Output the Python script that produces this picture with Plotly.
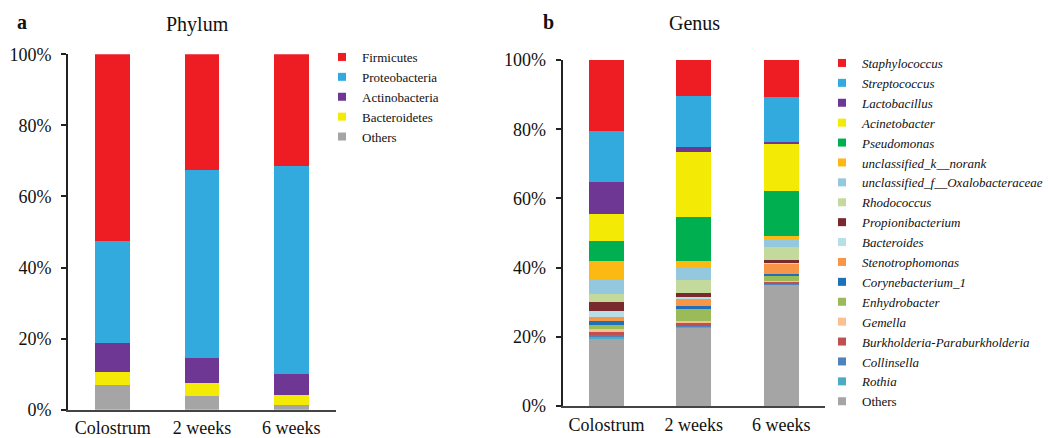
import plotly.graph_objects as go

W, H = 1048, 438

categories = ["Colostrum", "2 weeks", "6 weeks"]
y_tick_values = [0, 20, 40, 60, 80, 100]
y_tick_labels = ["0%", "20%", "40%", "60%", "80%", "100%"]

# Panel a: Phylum (percent), bottom-to-top stacking order
phylum_names = ["Others", "Bacteroidetes", "Actinobacteria", "Proteobacteria", "Firmicutes"]
phylum_values = {
    "Others":         [7.0, 3.9, 1.3],
    "Bacteroidetes":  [3.5, 3.5, 2.9],
    "Actinobacteria": [8.2, 7.2, 5.9],
    "Proteobacteria": [28.7, 52.8, 58.6],
    "Firmicutes":     [52.6, 32.6, 31.3],
}
phylum_colors = {
    "Firmicutes": "#EE1D24", "Proteobacteria": "#33AADE", "Actinobacteria": "#6E3794",
    "Bacteroidetes": "#F3EA06", "Others": "#A5A5A5",
}
phylum_legend_order = ["Firmicutes", "Proteobacteria", "Actinobacteria", "Bacteroidetes", "Others"]

# Panel b: Genus (percent), bottom-to-top stacking order
genus_names = ["Others", "Rothia", "Collinsella", "Burkholderia-Paraburkholderia", "Gemella",
               "Enhydrobacter", "Corynebacterium_1", "Stenotrophomonas", "Bacteroides",
               "Propionibacterium", "Rhodococcus", "unclassified_f__Oxalobacteraceae",
               "unclassified_k__norank", "Pseudomonas", "Acinetobacter", "Lactobacillus",
               "Streptococcus", "Staphylococcus"]
genus_values = {
    "Others":                           [19.5, 22.6, 35.1],
    "Rothia":                           [0.4, 0.3, 0.0],
    "Collinsella":                      [0.6, 0.2, 0.1],
    "Burkholderia-Paraburkholderia":    [0.9, 1.0, 0.8],
    "Gemella":                          [0.9, 0.5, 0.1],
    "Enhydrobacter":                    [1.1, 3.5, 1.5],
    "Corynebacterium_1":                [1.3, 0.9, 0.6],
    "Stenotrophomonas":                 [1.1, 1.9, 2.9],
    "Bacteroides":                      [1.7, 0.7, 0.2],
    "Propionibacterium":                [2.6, 1.1, 1.0],
    "Rhodococcus":                      [2.4, 3.7, 3.6],
    "unclassified_f__Oxalobacteraceae": [4.0, 3.6, 2.4],
    "unclassified_k__norank":           [5.5, 2.0, 0.7],
    "Pseudomonas":                      [5.6, 12.6, 13.2],
    "Acinetobacter":                    [7.8, 18.7, 13.4],
    "Lactobacillus":                    [9.4, 1.6, 0.8],
    "Streptococcus":                    [14.8, 14.8, 12.8],
    "Staphylococcus":                   [20.4, 10.3, 10.8],
}
genus_colors = {
    "Staphylococcus": "#EE1D24", "Streptococcus": "#33AADE", "Lactobacillus": "#6E3794",
    "Acinetobacter": "#F3EA06", "Pseudomonas": "#00AF4F", "unclassified_k__norank": "#FDB913",
    "unclassified_f__Oxalobacteraceae": "#93C8DF", "Rhodococcus": "#C4D99C",
    "Propionibacterium": "#7A2A2C", "Bacteroides": "#B6DFE8", "Stenotrophomonas": "#F79646",
    "Corynebacterium_1": "#1F70B9", "Enhydrobacter": "#9BBB59", "Gemella": "#FAC090",
    "Burkholderia-Paraburkholderia": "#C0504D", "Collinsella": "#4F81BD", "Rothia": "#4BACC6",
    "Others": "#A5A5A5",
}
genus_legend_order = list(reversed(genus_names))

FONT = "Liberation Serif, Times New Roman, serif"

fig = go.Figure()

# bars panel a
for name in phylum_names:
    fig.add_trace(go.Bar(
        x=categories, y=phylum_values[name], name=name,
        marker=dict(color=phylum_colors[name], line=dict(width=0)),
        width=0.39, xaxis="x", yaxis="y", showlegend=False,
    ))
# bars panel b
for name in genus_names:
    fig.add_trace(go.Bar(
        x=categories, y=genus_values[name], name=name,
        marker=dict(color=genus_colors[name], line=dict(width=0)),
        width=0.40, xaxis="x2", yaxis="y2", showlegend=False,
    ))

# legend entries (square swatches)
for name in phylum_legend_order:
    fig.add_trace(go.Scatter(
        x=[None], y=[None], mode="markers", name=name,
        marker=dict(symbol="square", size=8, color=phylum_colors[name]),
        xaxis="x", yaxis="y", legend="legend",
    ))
for name in genus_legend_order:
    label = name if name == "Others" else f"<i>{name}</i>"
    fig.add_trace(go.Scatter(
        x=[None], y=[None], mode="markers", name=label,
        marker=dict(symbol="square", size=8, color=genus_colors[name]),
        xaxis="x2", yaxis="y2", legend="legend2",
    ))

def px_x(p):
    return p / W

def px_y(p):
    return 1 - p / H

yaxis_common = dict(
    range=[0, 100], tickmode="array", tickvals=y_tick_values, ticktext=y_tick_labels,
    ticks="outside", ticklen=5, tickwidth=1.5, tickcolor="#222",
    showline=True, linecolor="#222", linewidth=2, showgrid=False, zeroline=False,
    tickfont=dict(family=FONT, size=18, color="#111"), ticklabelstandoff=6,
    fixedrange=True, automargin=False,
)
xaxis_common = dict(
    range=[-0.5, 2.5], showline=True, linecolor="#444", linewidth=2, ticks="",
    showgrid=False, tickfont=dict(family=FONT, size=18, color="#111"),
    ticklabelstandoff=1, fixedrange=True, automargin=False,
)

def label(text, x, y, bold=False):
    return dict(text=f"<b>{text}</b>" if bold else text, x=px_x(x), y=px_y(y),
                xref="paper", yref="paper", xanchor="center", yanchor="middle",
                showarrow=False, font=dict(family=FONT, size=20, color="#111"))

fig.update_layout(
    width=W, height=H, barmode="stack",
    margin=dict(l=0, r=0, t=0, b=0, autoexpand=False),
    paper_bgcolor="white", plot_bgcolor="white",
    font=dict(family=FONT, color="#111"),
    xaxis=dict(domain=[px_x(68), px_x(336)], anchor="y", **xaxis_common),
    yaxis=dict(domain=[px_y(409.7), px_y(54.3)], anchor="x", **yaxis_common),
    xaxis2=dict(domain=[px_x(562.7), px_x(825)], anchor="y2", **xaxis_common),
    yaxis2=dict(domain=[px_y(406), px_y(60)], anchor="x2", **yaxis_common),
    legend=dict(
        x=px_x(322), y=px_y(42), xanchor="left", yanchor="top", traceorder="normal",
        font=dict(family=FONT, size=13, color="#111"), bgcolor="rgba(0,0,0,0)",
        tracegroupgap=0, itemclick=False, itemdoubleclick=False,
    ),
    legend2=dict(
        x=px_x(822), y=px_y(48), xanchor="left", yanchor="top", traceorder="normal",
        font=dict(family=FONT, size=13, color="#111"), bgcolor="rgba(0,0,0,0)",
        tracegroupgap=0, itemclick=False, itemdoubleclick=False,
    ),
    annotations=[
        label("a", 22, 22, bold=True),
        label("Phylum", 197.5, 24),
        label("b", 548, 22, bold=True),
        label("Genus", 694, 23),
    ],
)

fig.write_html("out.html", config={"displayModeBar": False})
